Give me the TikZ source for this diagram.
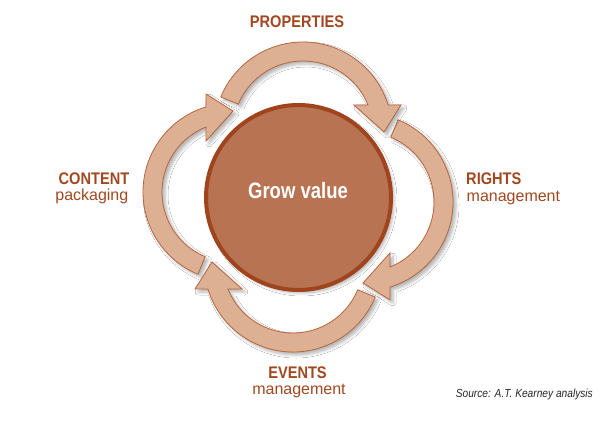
\documentclass[tikz,border=0pt]{standalone}
\usepackage{fontspec}
\setmainfont{Liberation Sans}
\newfontfamily\cond[FakeStretch=0.87]{Liberation Sans}
\newfontfamily\condg[FakeStretch=0.83]{Liberation Sans}
\usetikzlibrary{shadows.blur}
\definecolor{rust}{RGB}{162,72,32}
\definecolor{circfill}{RGB}{184,115,82}
\definecolor{circline}{RGB}{160,68,30}
\definecolor{arrfill}{RGB}{221,175,147}
\definecolor{arrline}{RGB}{182,102,62}
\definecolor{srcgrey}{RGB}{40,40,40}
\begin{document}
\begin{tikzpicture}[x=1pt,y=1pt,
  softshadow/.style={blur shadow={shadow xshift=3pt, shadow yshift=-3pt, shadow blur steps=6, shadow blur radius=3pt, shadow opacity=30}},
  arrowshape/.style={fill=arrfill, draw=arrline, line width=0.8pt, line join=miter, softshadow},
  hub/.style={circle, fill=circfill, draw=circline, line width=4pt, minimum size=185pt, inner sep=0pt, softshadow},
  head/.style={text=rust, font=\cond\bfseries\fontsize{16.8}{18}\selectfont, inner sep=0pt},
  sub/.style={text=rust, font=\fontsize{16}{18}\selectfont, inner sep=0pt},
]
\useasboundingbox (0,0) rectangle (607,426);
\fill[white] (0,0) rectangle (607,426);

\foreach \a in {0,90,180,270}{
  \begin{scope}[shift={(298,229)}, shift={(\a-4.33:66.19)}]
    \draw[arrowshape] (\a+67.5:89) arc[start angle=\a+67.5, end angle=\a-73, radius=89]
      -- (\a-75.14:101.39) -- (\a-90.71:81.01) -- (\a-62.98:57.24)
      -- (\a-68.2:70) arc[start angle=\a-68.2, end angle=\a+67.5, radius=70] -- cycle;
  \end{scope}
}

\node[hub] (hub) at (298.5,228.5) {};
\node[text=white, font=\condg\bfseries\fontsize{22.3}{24}\selectfont, inner sep=0pt, anchor=base] (gv) at (298,227) {Grow value};

\node[head, anchor=base] (prop) at (297,398) {PROPERTIES};
\node[head, anchor=base west] (rights) at (466,241.5) {RIGHTS};
\node[sub, anchor=base west] (rightsub) at (466.5,224) {management};
\node[head, anchor=base east] (content) at (129.5,241.5) {CONTENT};
\node[sub, anchor=base east] (contentsub) at (128.5,225) {packaging};
\node[head, anchor=base] (events) at (297.5,47.5) {EVENTS};
\node[sub, anchor=base] (eventsub) at (299,32) {management};
\node[text=srcgrey, font=\cond\itshape\fontsize{11.7}{13}\selectfont, anchor=base east, inner sep=0pt] (src) at (593,29) {Source: A.T. Kearney analysis};
\end{tikzpicture}
\end{document}
